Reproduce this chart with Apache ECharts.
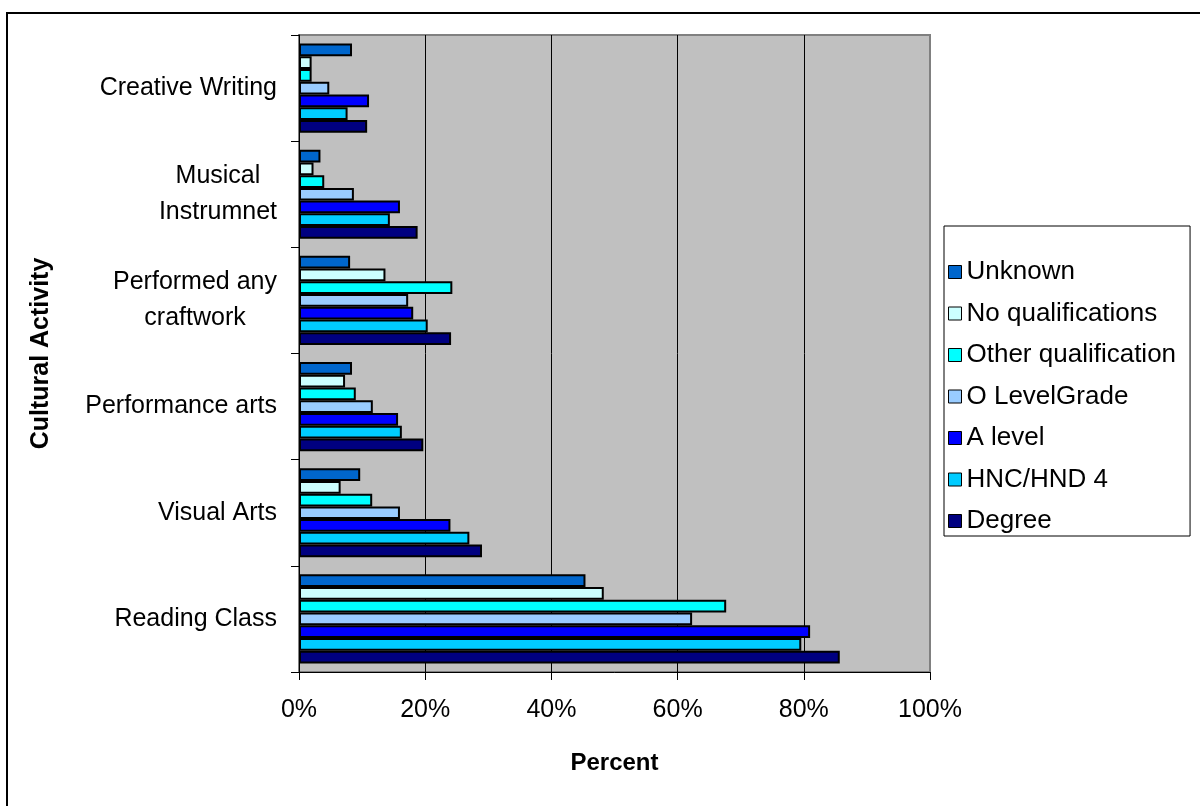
<!DOCTYPE html>
<html>
<head>
<meta charset="utf-8">
<script src="https://cdn.jsdelivr.net/npm/echarts@6/dist/echarts.min.js"></script>
<style>
  html, body { margin: 0; padding: 0; background: #fff; }
  #chart { width: 1200px; height: 806px; }
</style>
</head>
<body>
<div id="chart"></div>
<script>
// Cultural activity participation by highest qualification (percent)
const categories = ['Creative Writing', 'Musical\nInstrumnet', 'Performed any\ncraftwork', 'Performance arts', 'Visual Arts', 'Reading Class'];
const seriesNames = ['Unknown', 'No qualifications', 'Other qualification', 'O LevelGrade', 'A level', 'HNC/HND 4', 'Degree'];
const unknown    = [8.4, 3.4, 8.1, 8.4, 9.7, 45.4];
const noQual     = [2.0, 2.3, 13.7, 7.3, 6.6, 48.3];
const otherQual  = [2.0, 4.0, 24.3, 9.0, 11.6, 67.7];
const oLevel     = [4.8, 8.7, 17.3, 11.7, 16.0, 62.3];
const aLevel     = [11.1, 16.0, 18.1, 15.7, 24.0, 81.0];
const hncHnd     = [7.7, 14.4, 20.4, 16.3, 27.0, 79.6];
const degree     = [10.8, 18.8, 24.1, 19.7, 29.0, 85.7];
const xTicks = [0, 20, 40, 60, 80, 100];

const seriesData = [unknown, noQual, otherQual, oLevel, aLevel, hncHnd, degree];
const colors = ['#0066CC', '#CCFFFF', '#00FFFF', '#99CCFF', '#0000FF', '#00CCFF', '#000080'];
const FONT = "'Liberation Sans', Arial, sans-serif";

const chart = echarts.init(document.getElementById('chart'), null, { renderer: 'canvas' });

const option = {
  animation: false,
  backgroundColor: '#ffffff',
  textStyle: { fontFamily: FONT, color: '#000' },
  graphic: [{
    type: 'rect',
    shape: { x: 7, y: 13, width: 1200, height: 810 },
    style: { fill: 'none', stroke: '#000', lineWidth: 2 },
    silent: true,
    z: 100
  }],
  grid: {
    left: 299, top: 35, width: 631, height: 637,
    show: true,
    backgroundColor: '#C0C0C0',
    borderColor: '#808080',
    borderWidth: 2
  },
  legend: {
    orient: 'vertical',
    left: 944, top: 226,
    padding: [33, 14, 2, 4],
    itemGap: 15.5,
    itemWidth: 13, itemHeight: 13,
    icon: 'rect',
    backgroundColor: '#fff',
    borderColor: '#000',
    borderWidth: 1,
    borderRadius: 0,
    itemStyle: { borderColor: '#000', borderWidth: 1 },
    textStyle: { fontFamily: FONT, fontSize: 26, color: '#000' },
    data: seriesNames
  },
  xAxis: {
    type: 'value',
    min: xTicks[0], max: xTicks[xTicks.length - 1], interval: 20,
    name: 'Percent',
    nameLocation: 'middle',
    nameGap: 79,
    nameTextStyle: { fontFamily: FONT, fontSize: 24, fontWeight: 'bold', color: '#000', verticalAlign: 'top' },
    axisLine: { show: true, lineStyle: { color: '#000', width: 1 } },
    axisTick: { show: true, length: 8, lineStyle: { color: '#000' } },
    axisLabel: { formatter: '{value}%', fontSize: 25, color: '#000', margin: 26, fontFamily: FONT },
    splitLine: { show: true, lineStyle: { color: ['#000', '#000', '#000', '#000', '#000', '#808080'], width: 1 } }
  },
  yAxis: {
    type: 'category',
    inverse: true,
    data: categories,
    name: 'Cultural Activity',
    nameLocation: 'middle',
    nameGap: 245,
    nameRotate: 90,
    nameTextStyle: { fontFamily: FONT, fontSize: 25, fontWeight: 'bold', color: '#000' },
    axisLine: { show: true, lineStyle: { color: '#000', width: 1 } },
    axisTick: { show: true, length: 8, lineStyle: { color: '#000' } },
    axisLabel: {
      margin: 22,
      fontSize: 25,
      color: '#000',
      fontFamily: FONT,
      lineHeight: 36,
      formatter: function (v) {
        return v.split('\n').map(function (s) { return '{c|' + s + '}'; }).join('\n');
      },
      rich: { c: { align: 'center', fontSize: 25, lineHeight: 36, fontFamily: FONT, color: '#000' } }
    },
    splitLine: { show: false }
  },
  series: seriesNames.map(function (name, i) {
    return {
      name: name,
      type: 'bar',
      data: seriesData[i],
      barGap: '0%',
      barCategoryGap: '16%',
      itemStyle: { color: colors[i], borderColor: '#000', borderWidth: 2 }
    };
  })
};

chart.setOption(option);
</script>
</body>
</html>
